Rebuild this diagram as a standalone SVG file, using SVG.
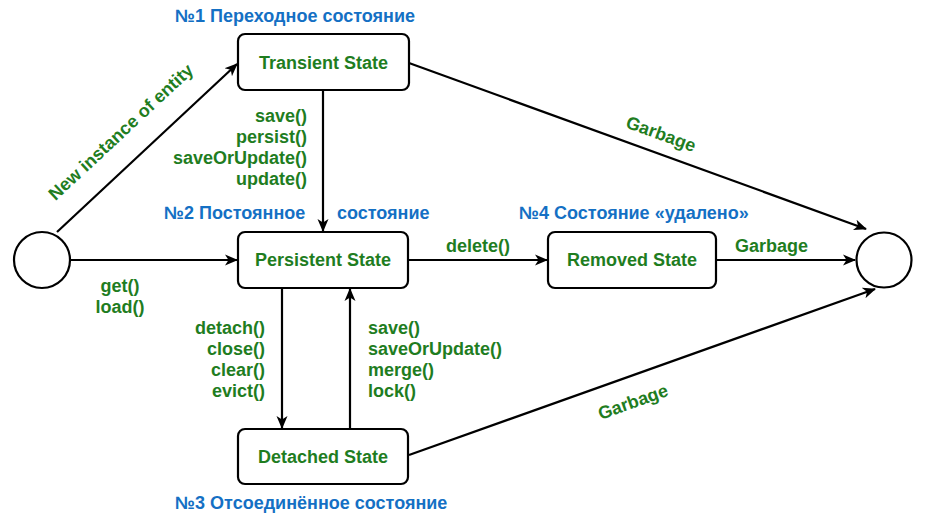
<svg xmlns="http://www.w3.org/2000/svg" width="925" height="520" viewBox="0 0 925 520">
<style>
  .node rect { fill: #ffffff; stroke: #000000; stroke-width: 2.2; }
  .term { fill: #ffffff; stroke: #000000; stroke-width: 2.2; }
  .lbl { font-family: "Liberation Sans", Arial, sans-serif; font-size: 18px; font-weight: bold; fill: #1f7d1f; }
  .title { font-family: "Liberation Sans", Arial, sans-serif; font-size: 18px; font-weight: bold; fill: #1470c4; }
  .edge { fill: none; stroke: #000000; stroke-width: 2.2; marker-end: url(#arrow); }
  .mid { text-anchor: middle; }
  .end { text-anchor: end; }
</style>
<defs>
  <marker id="arrow" markerUnits="userSpaceOnUse" markerWidth="14" markerHeight="12" refX="12" refY="6" orient="auto">
    <path d="M0,0.5 L13,6 L0,11.5 L3.5,6 Z" fill="#000000"/>
  </marker>
</defs>

<rect width="925" height="520" fill="#ffffff"/>

<g id="connectors">
  <line class="edge" x1="57" y1="232" x2="237" y2="64"/>
  <line class="edge" x1="71" y1="260" x2="237" y2="260"/>
  <line class="edge" x1="323" y1="91" x2="323" y2="231"/>
  <line class="edge" x1="409" y1="63" x2="866" y2="229"/>
  <line class="edge" x1="408" y1="260" x2="547" y2="260"/>
  <line class="edge" x1="716" y1="260" x2="855" y2="260"/>
  <line class="edge" x1="282" y1="288" x2="282" y2="428"/>
  <line class="edge" x1="350" y1="429" x2="350" y2="289"/>
  <line class="edge" x1="409" y1="455" x2="875" y2="289"/>
</g>

<g id="start">
  <circle class="term" cx="42" cy="260" r="28"/>
</g>
<g id="end">
  <circle class="term" cx="884" cy="260" r="27.5"/>
</g>

<g id="transient" class="node">
  <rect x="238" y="34" width="171" height="56" rx="7"/>
  <text class="lbl mid" x="323.5" y="69">Transient State</text>
</g>
<g id="persistent" class="node">
  <rect x="238" y="232" width="170" height="56" rx="7"/>
  <text class="lbl mid" x="323" y="266">Persistent State</text>
</g>
<g id="removed" class="node">
  <rect x="548" y="232" width="168" height="56" rx="7"/>
  <text class="lbl mid" x="632" y="266">Removed State</text>
</g>
<g id="detached" class="node">
  <rect x="238" y="429" width="170" height="55" rx="7"/>
  <text class="lbl mid" x="323" y="463">Detached State</text>
</g>

<g id="titles">
  <text class="title" x="175" y="22">№1 Переходное состояние</text>
  <text class="title" y="219"><tspan x="164">№2 Постоянное</tspan><tspan x="337">состояние</tspan></text>
  <text class="title" x="519" y="219">№4 Состояние «удалено»</text>
  <text class="title" x="175" y="509">№3 Отсоединённое состояние</text>
</g>

<g id="edge-labels">
  <text class="lbl mid" transform="translate(121,132) rotate(-43)" x="0" y="6">New instance of entity</text>
  <text class="lbl end" x="307" y="122">save()</text>
  <text class="lbl end" x="307" y="143">persist()</text>
  <text class="lbl end" x="307" y="164">saveOrUpdate()</text>
  <text class="lbl end" x="307" y="185">update()</text>
  <text class="lbl mid" x="120" y="292">get()</text>
  <text class="lbl mid" x="120" y="313">load()</text>
  <text class="lbl mid" transform="translate(661,134) rotate(20)" x="0" y="6">Garbage</text>
  <text class="lbl" x="446" y="252">delete()</text>
  <text class="lbl" x="735" y="252">Garbage</text>
  <text class="lbl end" x="265" y="334">detach()</text>
  <text class="lbl end" x="265" y="355">close()</text>
  <text class="lbl end" x="265" y="376">clear()</text>
  <text class="lbl end" x="265" y="397">evict()</text>
  <text class="lbl" x="368" y="334">save()</text>
  <text class="lbl" x="368" y="355">saveOrUpdate()</text>
  <text class="lbl" x="368" y="376">merge()</text>
  <text class="lbl" x="368" y="397">lock()</text>
  <text class="lbl mid" transform="translate(633,402) rotate(-19.7)" x="0" y="6">Garbage</text>
</g>
</svg>
